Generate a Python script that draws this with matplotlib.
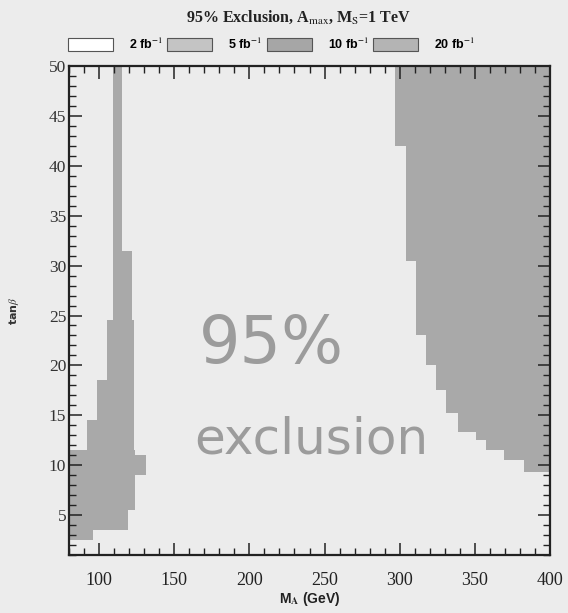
import matplotlib
matplotlib.use("Agg")
import matplotlib.pyplot as plt
import matplotlib.patches as mpatches
from matplotlib.ticker import MultipleLocator
import numpy as np

plt.rcParams['mathtext.fontset'] = 'stix'

# ---- data ----
# low-mA excluded region: horizontal bands in tan(beta)
low_tb_edges = [2.5, 3.5, 5.5, 9.0, 11.0, 11.5, 14.5, 18.5, 24.5, 31.5, 50.0]
low_ma_left = [80, 80, 80, 80, 80, 92, 98.5, 105, 109.5, 109.5]
low_ma_right = [96, 119, 124, 131, 124, 123, 123, 123, 122, 115]

# high-mA excluded region: left boundary for each tan(beta) band (extends to 400)
high_tb_edges = [9.3, 10.5, 11.5, 12.5, 13.3, 15.2, 17.5, 20.0, 23.0, 30.5, 42.0, 50.0]
high_ma_left = [382.7, 369.3, 357.3, 350.7, 338.7, 331, 324, 317.5, 311, 304, 297]
high_ma_right = 400

legend_labels = ['2 fb$^{-1}$', '5 fb$^{-1}$', '10 fb$^{-1}$', '20 fb$^{-1}$']
legend_colors = ['#ffffff', '#c4c4c4', '#a6a6a6', '#b4b4b4']

xticks = [100, 150, 200, 250, 300, 350, 400]
yticks = [5, 10, 15, 20, 25, 30, 35, 40, 45, 50]

bg = '#ececec'
shade = '#a9a9a9'

fig = plt.figure(figsize=(5.68, 6.13), dpi=100, facecolor=bg)
ax = fig.add_axes([0.1215, 0.0946, 0.8468, 0.7977], facecolor=bg)

# low region
lb = np.array(low_tb_edges)
ax.barh(lb[:-1], np.array(low_ma_right) - np.array(low_ma_left), height=np.diff(lb),
        left=low_ma_left, align='edge', color=shade, linewidth=0)
# high region
hb = np.array(high_tb_edges)
ax.barh(hb[:-1], high_ma_right - np.array(high_ma_left), height=np.diff(hb),
        left=high_ma_left, align='edge', color=shade, linewidth=0)

ax.set_xlim(80, 400)
ax.set_ylim(1, 50)
ax.set_xticks(xticks)
ax.set_yticks(yticks)
ax.xaxis.set_minor_locator(MultipleLocator(10))
ax.yaxis.set_minor_locator(MultipleLocator(1))
ax.tick_params(which='both', direction='in', top=True, right=True, color='#222222')
ax.tick_params(which='major', length=9, width=1.1)
ax.tick_params(which='minor', length=5, width=1.0)
ax.tick_params(axis='x', pad=12)
ax.tick_params(axis='y', pad=2)
for lab in ax.get_xticklabels():
    lab.set_family('Liberation Serif'); lab.set_fontsize(13); lab.set_color('#222222')
for lab in ax.get_yticklabels():
    lab.set_family('Liberation Serif'); lab.set_fontsize(12.5); lab.set_color('#333333')
for s in ax.spines.values():
    s.set_linewidth(1.6); s.set_color('#222222')

ax.set_xlabel('M$_{\\mathbf{A}}$ (GeV)', fontsize=10, fontweight='bold', family='Liberation Sans',
              color='#222222', labelpad=1)
ax.set_ylabel('tan$\\beta$', fontsize=8, fontweight='bold', color='#333333', labelpad=20)

# handwritten annotation
ax.text(215, 22, '95%', fontsize=47, color='#9c9c9c', ha='center', va='center',
        family='DejaVu Sans')
ax.text(241, 12.6, 'exclusion', fontsize=36, color='#9c9c9c', ha='center', va='center',
        family='DejaVu Sans')

fig.text(0.525, 0.972, '95% Exclusion, A$_{\\rm max}$, M$_{\\rm S}$=1 TeV', ha='center', va='center',
         fontsize=11.5, family='Liberation Serif', fontweight='bold', color='#222222')

handles = [mpatches.Patch(facecolor=c, edgecolor='#555555', linewidth=0.8) for c in legend_colors]
fig.legend(handles, legend_labels, loc='center', bbox_to_anchor=(0.478, 0.928), ncol=4,
           frameon=False, handlelength=3.6, handleheight=1.2, columnspacing=0.35, handletextpad=1.3,
           prop={'family': 'Liberation Sans', 'weight': 'bold', 'size': 9})

fig.savefig('out.png', dpi=100, facecolor=bg)
